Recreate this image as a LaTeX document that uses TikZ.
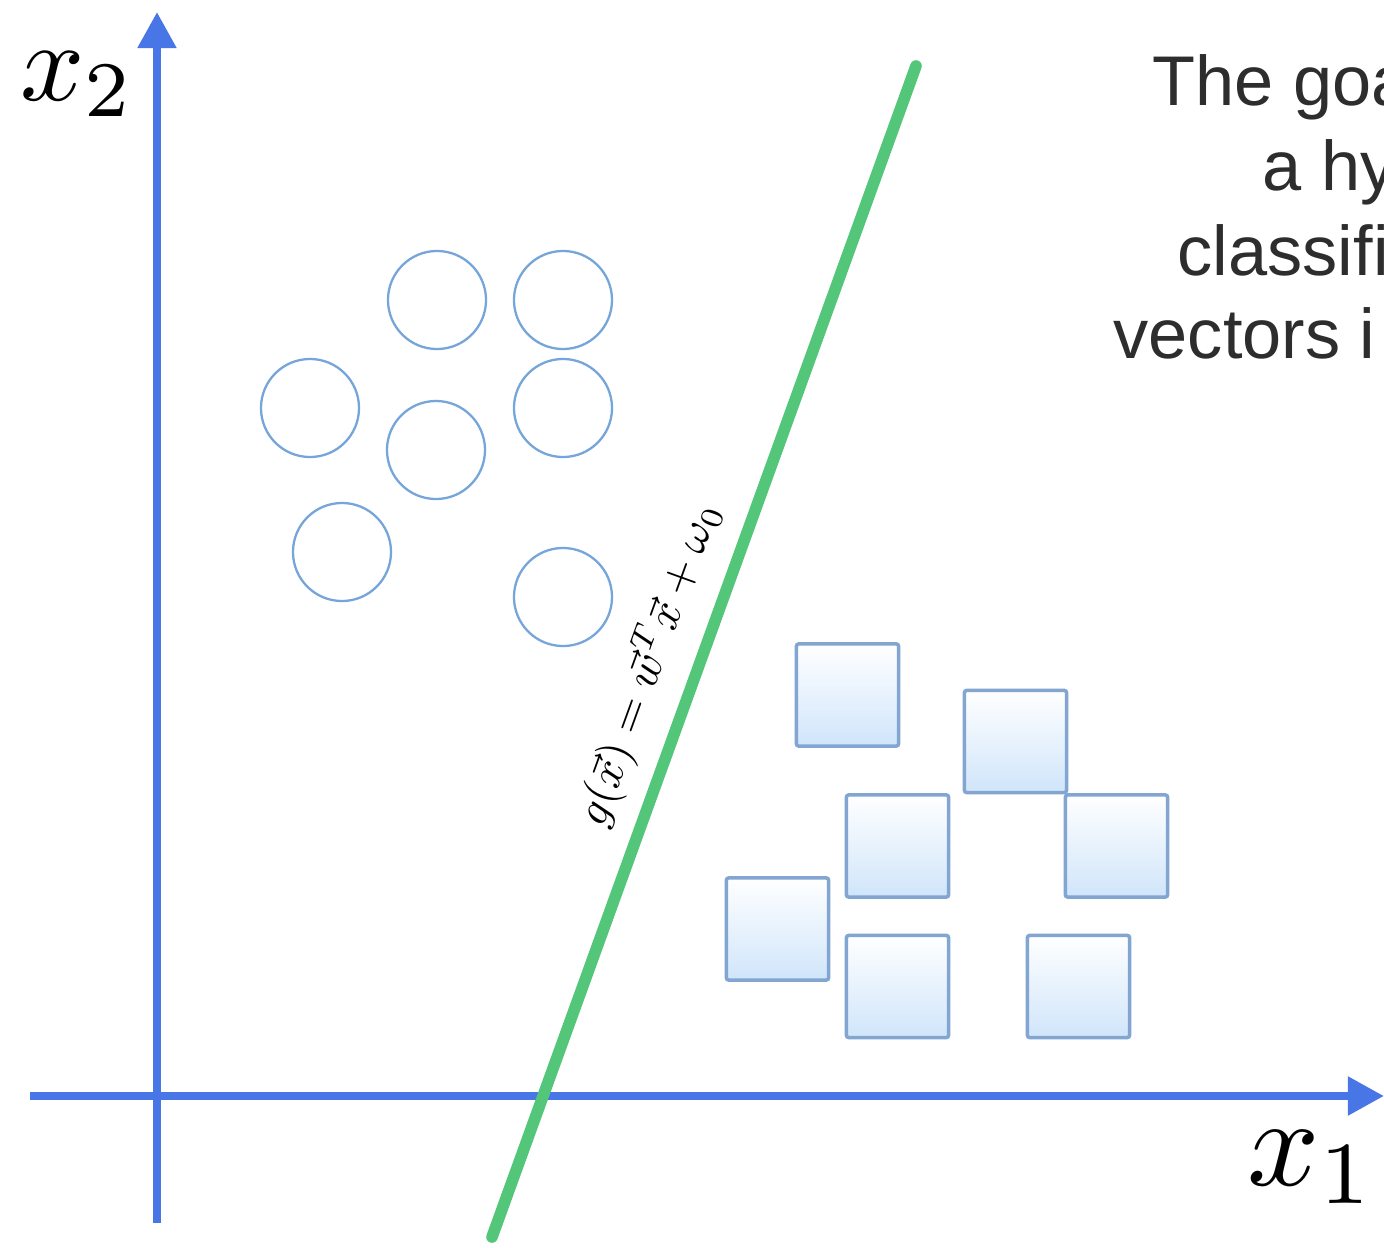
\documentclass[tikz,border=0pt]{standalone}
\usepackage{fontspec}
\newfontfamily\notefont{Liberation Sans}
\usepackage{amsmath}
\usetikzlibrary{arrows.meta, shapes.geometric}
\definecolor{axisblue}{RGB}{72,118,230}
\definecolor{planegreen}{RGB}{84,198,122}
\definecolor{dotblue}{RGB}{118,165,218}
\definecolor{boxblue}{RGB}{130,165,210}
\definecolor{boxfill}{RGB}{208,229,250}
\definecolor{notegray}{RGB}{45,45,45}
\tikzset{
  axis/.style={line width=2.3pt, color=axisblue},
  axisarrow/.style={axis, -{Triangle[width=0.37cm,length=0.36cm]}},
  hyperplane/.style={line width=3.3pt, color=planegreen, line cap=round},
  classa/.style={
    circle, draw=dotblue, line width=0.65pt,
    minimum size=0.98cm, inner sep=0pt
  },
  classb/.style={
    rectangle, rounded corners=0.6pt, draw=boxblue, line width=1pt,
    top color=white, bottom color=boxfill,
    minimum size=1.02cm, inner sep=0pt
  },
  note/.style={
    font=\notefont\fontsize{20}{24}\selectfont,
    color=notegray, anchor=base west, inner sep=0pt
  },
}

\begin{document}
\begin{tikzpicture}[x=0.01cm, y=-0.01cm]
  \fill[white] (0,0) rectangle (1384,1248);
  \useasboundingbox (0,0) rectangle (1384,1248);

  % axes
  \coordinate (o1)    at (30,1096);
  \coordinate (x1end) at (1384,1096);
  \coordinate (o2)    at (157,1223);
  \coordinate (x2end) at (157,12);
  \draw [axisarrow] (o1) -- (x1end);
  \draw [axisarrow] (o2) -- (x2end);
  \node (x1lab) [anchor=base west, scale=3.6, inner sep=0pt] at (1245,1185) {$x_1$};
  \node (x2lab) [anchor=base west, scale=3.2, inner sep=0pt] at (18,100)   {$x_2$};

  % class one
  \node (c1) [classa] at (437,300) {};
  \node (c2) [classa] at (563,300) {};
  \node (c3) [classa] at (310,408) {};
  \node (c4) [classa] at (436,450) {};
  \node (c5) [classa] at (563,408) {};
  \node (c6) [classa] at (342,552) {};
  \node (c7) [classa] at (563,597) {};

  % class two
  \node (s1) [classb] at (847.5,695)  {};
  \node (s2) [classb] at (1015.5,741.5) {};
  \node (s3) [classb] at (897.5,846)  {};
  \node (s4) [classb] at (1116.5,846) {};
  \node (s5) [classb] at (777.5,929)  {};
  \node (s6) [classb] at (897.5,986.5) {};
  \node (s7) [classb] at (1078.5,986.5) {};

  % separating line
  \coordinate (hpbot) at (492,1237);
  \coordinate (hptop) at (916,66);
  \draw [hyperplane] (hpbot) -- node[sloped, above, pos=0.475, scale=1.3, text=black]
    {$g(\vec{x}) = \vec{w}^T\vec{x} + \omega_0$} (hptop);

  % text on the right
  \node (n1) [note] at (1152,105) {The goa};
  \node (n2) [note] at (1262,190) {a hy};
  \node (n3) [note] at (1177,275) {classifi};
  \node (n4) [note] at (1113,358) {vectors i};
\end{tikzpicture}
\end{document}
